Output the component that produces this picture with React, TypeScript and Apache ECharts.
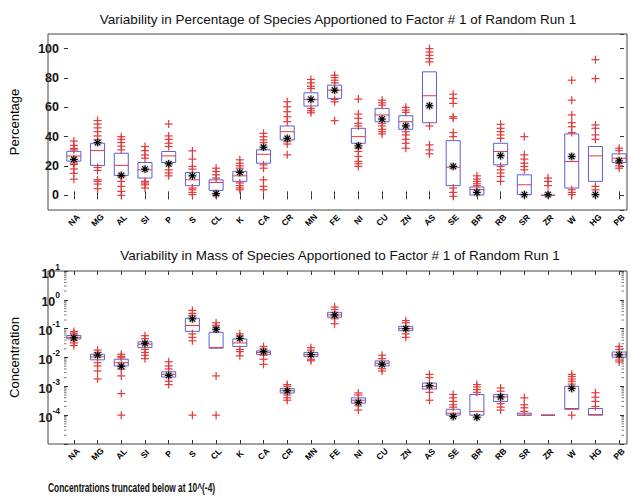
import React, { useEffect, useRef } from 'react';
import * as echarts from 'echarts';

const species = ['NA','MG','AL','SI','P','S','CL','K','CA','CR','MN','FE','NI','CU','ZN','AS','SE','BR','RB','SR','ZR','W','HG','PB'];

// ---- Top panel: percentage of species apportioned ----
const pctQ1 = [23.3, 20.4, 13.6, 11.8, 22.4, 6.6, 3.4, 9.5, 21.9, 37.8, 60.9, 66.1, 35.5, 50.2, 45.0, 49.5, 6.6, 0.2, 20.8, 0.5, 0, 5.0, 9.5, 22.4];
const pctMedian = [26.8, 30.5, 20.4, 17.4, 26.9, 10.6, 8.8, 13.3, 28.0, 43.4, 65.4, 71.7, 40.0, 54.8, 50.2, 67.9, 19.2, 4.0, 29.9, 7.2, 0, 23.1, 26.9, 25.3];
const pctQ3 = [30.0, 35.5, 28.7, 22.4, 29.9, 15.6, 10.6, 16.3, 31.0, 47.3, 69.9, 75.1, 45.7, 59.3, 54.3, 84.2, 37.3, 5.7, 35.5, 14.0, 0, 41.9, 33.3, 28.3];
const pctMark = [24.5, 36.0, 13.6, 17.9, 21.5, 13.3, 1.1, 15.6, 32.8, 38.9, 65.4, 71.7, 33.7, 52.0, 47.3, 61.1, 19.7, 2.0, 27.1, 0.5, 0.5, 26.5, 0.5, 23.5];
const pctOutliers = [
  [37, 34, 32, 31, 22, 21, 18, 15, 11],
  [51, 48.6, 46, 43.4, 40.5, 38, 19, 17, 10.6, 9.5, 7.7, 4.5],
  [40, 38.2, 36, 33.5, 31, 12.9, 9.5, 6.1, 2.7, 0],
  [33.3, 30.5, 27.5, 25.3, 9.5, 8.4, 7.2, 5],
  [48.6, 40.5, 38.2, 35.5, 33.3, 17.4, 15.2, 13.3],
  [30.3, 24.7, 19.7, 17.9, 5, 3.8, 2, 0.5],
  [18.5, 16.3, 14, 11.8, 0],
  [24.2, 21.9, 20.1, 18.5, 8.4, 6.6, 5, 3.8],
  [42.3, 40, 37.8, 36, 20.8, 18.5, 10.6, 6.1, 3.8],
  [63.8, 60.4, 57, 53.6, 50.2, 36.7, 35, 27.6],
  [79, 76.7, 74.4, 72.9, 59.3, 57.7, 56.3],
  [81.9, 80.3, 78.5, 76.7, 65.4, 63.8, 50.9],
  [65.6, 55.4, 52.5, 49.1, 47.3, 32.1, 29.9, 26.5, 23.1, 21.5, 19.7],
  [64.9, 63.1, 61.5, 49.1, 47.3, 45, 43.4, 41.9],
  [60, 58.1, 56.6, 43.4, 41.2, 38.2, 35.5, 32.1],
  [100, 97.7, 95.5, 93.2, 91, 47.3, 34.4, 31, 28.3],
  [69, 66.1, 62.7, 53.6, 52.5, 42.8, 40, 5, 2, -0.7],
  [13.3, 11.1, 9.5, 7.9, 6.6],
  [48.4, 45.7, 43.4, 41.2, 38.9, 19.7, 17.4, 15.2, 12.9, 9.5],
  [40, 27.6, 24.7, 21.9, 19.7, 17.4],
  [11.8, 9.5, 6.6],
  [78.5, 64.9, 54.8, 49.5, 46.8, 42.8, 3.8, 2, 0.5],
  [92.5, 79.6, 48, 45.7, 41.2, 38.2, 6.1, 3.8],
  [32.1, 30.5, 21.9, 20.1, 18.5],
];
const pctTicks = [0, 20, 40, 60, 80, 100];

// ---- Bottom panel: mass (concentration) of species apportioned ----
const massQ1 = [4.4e-2, 8.3e-3, 5.1e-3, 2.2e-2, 2.1e-3, 8.1e-2, 2.1e-2, 2.4e-2, 1.29e-2, 5.9e-4, 1.08e-2, 2.5e-1, 2.6e-4, 5.1e-3, 8.5e-2, 8.1e-4, 1e-4, 1e-4, 3e-4, 1e-4, 1e-4, 1.6e-4, 1e-4, 1.02e-2];
const massMedian = [5.0e-2, 1.05e-2, 6.6e-3, 2.9e-2, 2.6e-3, 1.29e-1, 2.2e-2, 3.2e-2, 1.5e-2, 7e-4, 1.26e-2, 3e-1, 3.3e-4, 6.3e-3, 1e-1, 1e-3, 1.17e-4, 1.35e-4, 4.3e-4, 1e-4, 1e-4, 1.7e-4, 1.05e-4, 1.24e-2];
const massQ3 = [5.8e-2, 1.29e-2, 8.7e-3, 3.5e-2, 3.2e-3, 2.3e-1, 7.5e-2, 4.4e-2, 1.7e-2, 8.3e-4, 1.5e-2, 3.7e-1, 4e-4, 7.6e-3, 1.2e-1, 1.3e-3, 1.6e-4, 5.2e-4, 5.2e-4, 1.17e-4, 1e-4, 1e-3, 1.7e-4, 1.55e-2];
const massMark = [4.8e-2, 1.2e-2, 5.0e-3, 3.1e-2, 2.4e-3, 2.2e-1, 9.5e-2, 4.6e-2, 1.6e-2, 7e-4, 1.26e-2, 3e-1, 2.8e-4, 5.8e-3, 1e-1, 1.06e-3, 9e-5, 8.5e-5, 4.3e-4, null, null, 8.5e-4, null, 1.24e-2];
const massOutliers = [
  [8e-2, 7e-2, 6.5e-2, 3.8e-2, 3.2e-2, 2.6e-2],
  [1.8e-2, 1.5e-2, 6.6e-3, 5.1e-3, 3.4e-3, 1.8e-3],
  [1.3e-2, 1.1e-2, 9.8e-3, 3.9e-3, 2.3e-3, 5.6e-4, 1e-4],
  [5.7e-2, 4.5e-2, 1.9e-2, 1.5e-2, 1.2e-2, 9.1e-3],
  [7.1e-3, 5.1e-3, 4e-3, 1.5e-3, 1.15e-3],
  [4.3e-1, 3.4e-1, 2.9e-1, 6.6e-2, 5e-2, 3.8e-2, 1e-4],
  [1.6e-1, 1.3e-1, 1.1e-1, 2.3e-3, 1e-4],
  [6.6e-2, 5.6e-2, 1.9e-2, 1.6e-2, 1.14e-2],
  [2.4e-2, 2e-2, 1.2e-2, 8.7e-3, 5.8e-3],
  [1.15e-3, 1e-3, 5e-4, 4e-4, 3.3e-4],
  [2.2e-2, 1.8e-2, 8.7e-3, 7.7e-3],
  [5.6e-1, 4.6e-1, 2.2e-1, 1.48e-1],
  [5.9e-4, 5e-4, 2.1e-4, 1.5e-4],
  [1.2e-2, 9.1e-3, 4.1e-3, 3.4e-3],
  [1.9e-1, 1.6e-1, 6.6e-2, 5e-2],
  [2.6e-3, 2e-3, 6.2e-4, 3.3e-4],
  [5.2e-4, 4e-4, 3e-4, 2.3e-4, 1.9e-4],
  [1.15e-3, 9.5e-4, 7.7e-4, 6.2e-4],
  [8.8e-4, 6.8e-4, 2.5e-4, 1.9e-4, 1.5e-4],
  [4e-4, 2.3e-4, 1.8e-4, 1.35e-4],
  [],
  [2.6e-3, 2.2e-3, 1.8e-3, 1.5e-3, 1.2e-3, 1e-4],
  [6e-4, 4.2e-4, 3e-4, 2e-4],
  [2.4e-2, 1.9e-2, 8.2e-3, 7e-3],
];
const logDecades = [-5, -4, -3, -2, -1, 0];
const minorMultipliers = [2, 3, 4, 5, 6, 7, 8, 9];

const topTitle = 'Variability in Percentage of Species Apportioned to Factor # 1 of Random Run 1';
const bottomTitle = 'Variability in Mass of Species Apportioned to Factor # 1 of Random Run 1';
const noteText = 'Concentrations truncated below at 10^(-4)';

const FONT = 'Liberation Sans, Arial, sans-serif';
const BLUE = '#5e5ed6';
const RED = '#e23a3a';

const boxRender = (params: any, api: any) => {
  const i = api.value(0);
  const p1 = api.coord([i, api.value(1)]);
  const pm = api.coord([i, api.value(2)]);
  const p3 = api.coord([i, api.value(3)]);
  const h = 7;
  return {
    type: 'group',
    children: [
      { type: 'rect', shape: { x: p1[0] - h, y: p3[1], width: 2 * h, height: Math.max(p1[1] - p3[1], 0) }, style: { fill: 'none', stroke: BLUE, lineWidth: 1 } },
      { type: 'line', shape: { x1: pm[0] - h, y1: pm[1], x2: pm[0] + h, y2: pm[1] }, style: { stroke: RED, lineWidth: 1 } },
    ],
  };
};

const crossRender = (params: any, api: any) => {
  const p = api.coord([api.value(0), api.value(1)]);
  const r = 4;
  return {
    type: 'group',
    children: [
      { type: 'line', shape: { x1: p[0] - r, y1: p[1], x2: p[0] + r, y2: p[1] }, style: { stroke: RED, lineWidth: 1.2 } },
      { type: 'line', shape: { x1: p[0], y1: p[1] - r, x2: p[0], y2: p[1] + r }, style: { stroke: RED, lineWidth: 1.2 } },
    ],
  };
};

const starRender = (params: any, api: any) => {
  const p = api.coord([api.value(0), api.value(1)]);
  const r = 3.8;
  const d = r * 0.72;
  const st = { stroke: '#000', lineWidth: 1.1 };
  return {
    type: 'group',
    children: [
      { type: 'circle', shape: { cx: p[0], cy: p[1], r: 4.5 }, style: { fill: 'rgba(150,150,150,0.35)' } },
      { type: 'line', shape: { x1: p[0] - r, y1: p[1], x2: p[0] + r, y2: p[1] }, style: st },
      { type: 'line', shape: { x1: p[0], y1: p[1] - r, x2: p[0], y2: p[1] + r }, style: st },
      { type: 'line', shape: { x1: p[0] - d, y1: p[1] - d, x2: p[0] + d, y2: p[1] + d }, style: st },
      { type: 'line', shape: { x1: p[0] - d, y1: p[1] + d, x2: p[0] + d, y2: p[1] - d }, style: st },
      { type: 'circle', shape: { cx: p[0], cy: p[1], r: 1.7 }, style: { fill: '#000' } },
    ],
  };
};

// minor log ticks drawn on the frame of the lower panel (inside, Matlab-like)
const minorTickRender = (params: any, api: any) => {
  const p = api.coord([0, api.value(1)]);
  const cs = params.coordSys;
  const xl = cs.x + 2;
  const xr = cs.x + cs.width - 7;
  const st = { stroke: '#555', lineWidth: 0.8 };
  return {
    type: 'group',
    children: [
      { type: 'line', shape: { x1: xl, y1: p[1], x2: xl + 2.5, y2: p[1] }, style: st },
      { type: 'line', shape: { x1: xr - 2.5, y1: p[1], x2: xr, y2: p[1] }, style: st },
    ],
  };
};

const flatten = (outs: number[][]) => {
  const res: number[][] = [];
  outs.forEach((arr, i) => arr.forEach((v) => res.push([i, v])));
  return res;
};

export default function App() {
  const ref = useRef<HTMLDivElement>(null);
  useEffect(() => {
    if (!ref.current) return;
    const chart = echarts.init(ref.current, undefined, { renderer: 'svg' });

    const xLabel = { show: true, rotate: 45, align: 'center', verticalAlign: 'middle', margin: 10, fontSize: 8.5, fontWeight: 'bold', color: '#000', fontFamily: FONT, interval: 0 };
    const mkX = (gridIndex: number, pos: 'top' | 'bottom') => ({
      type: 'category', gridIndex, position: pos, data: species, boundaryGap: true,
      axisLine: { show: false },
      axisTick: { show: true, inside: true, alignWithLabel: true, length: 4, lineStyle: { color: '#333' }, interval: 0 },
      axisLabel: pos === 'bottom' ? xLabel : { show: false },
    });

    const minorValues: number[][] = [];
    logDecades.forEach((e) => minorMultipliers.forEach((m) => minorValues.push([0, m * Math.pow(10, e)])));

    const option: any = {
      animation: false,
      backgroundColor: '#fff',
      grid: [
        { left: 46, top: 34, width: 588, height: 176 },
        { left: 46, top: 271, width: 588, height: 173 },
      ],
      xAxis: [mkX(0, 'bottom'), mkX(0, 'top'), mkX(1, 'bottom'), mkX(1, 'top')],
      yAxis: [
        {
          type: 'value', gridIndex: 0, position: 'left', offset: -2, min: -10, max: 110,
          name: 'Percentage', nameLocation: 'middle', nameGap: 43,
          nameTextStyle: { fontSize: 13, color: '#000', fontFamily: FONT },
          splitLine: { show: false }, axisLine: { show: false },
          axisTick: { show: true, inside: true, length: 4, lineStyle: { color: '#333' } },
          axisLabel: {
            fontSize: 12.5, fontWeight: 'bold', color: '#111', fontFamily: FONT, margin: 5,
            showMinLabel: false, showMaxLabel: false,
            formatter: (v: number) => (pctTicks.includes(v) ? String(v) : ''),
          },
        },
        {
          type: 'value', gridIndex: 0, position: 'right', offset: -7, min: -10, max: 110,
          splitLine: { show: false }, axisLine: { show: false },
          axisTick: { show: true, inside: true, length: 4, lineStyle: { color: '#333' } },
          axisLabel: { show: false },
        },
        {
          type: 'log', logBase: 10, gridIndex: 1, position: 'left', offset: -2, min: 1e-5, max: 10,
          name: 'Concentration', nameLocation: 'middle', nameGap: 43,
          nameTextStyle: { fontSize: 13, color: '#000', fontFamily: FONT },
          splitLine: { show: false }, axisLine: { show: false },
          axisTick: { show: true, inside: true, length: 4, lineStyle: { color: '#333' } },
          axisLabel: {
            margin: 4, fontFamily: FONT, color: '#111',
            formatter: (v: number) => {
              const e = Math.round(Math.log10(v));
              if (e < -4) return '';
              return '{b|10}{s|' + e + '}';
            },
            rich: {
              b: { fontSize: 12.5, fontWeight: 'bold', color: '#111', fontFamily: FONT, verticalAlign: 'bottom', lineHeight: 18 },
              s: { fontSize: 8.5, fontWeight: 'bold', color: '#111', fontFamily: FONT, verticalAlign: 'top', lineHeight: 18 },
            },
          },
        },
        {
          type: 'log', logBase: 10, gridIndex: 1, position: 'right', offset: -7, min: 1e-5, max: 10,
          splitLine: { show: false }, axisLine: { show: false },
          axisTick: { show: true, inside: true, length: 4, lineStyle: { color: '#333' } },
          axisLabel: { show: false },
        },
      ],
      graphic: [
        { type: 'rect', shape: { x: 48, y: 34, width: 579, height: 176 }, style: { fill: 'none', stroke: '#444', lineWidth: 1 }, silent: true, z: 100 },
        { type: 'rect', shape: { x: 48, y: 271, width: 579, height: 173 }, style: { fill: 'none', stroke: '#444', lineWidth: 1 }, silent: true, z: 100 },
        { type: 'text', x: 338, y: 19, style: { text: topTitle, fontSize: 13.5, fontFamily: FONT, fill: '#111', textAlign: 'center', textVerticalAlign: 'middle' } },
        { type: 'text', x: 340, y: 255, style: { text: bottomTitle, fontSize: 13.5, fontFamily: FONT, fill: '#111', textAlign: 'center', textVerticalAlign: 'middle' } },
        { type: 'text', x: 48, y: 487, scaleX: 0.67, style: { text: noteText, fontSize: 12.5, fontWeight: 'bold', fontFamily: FONT, fill: '#111', textAlign: 'left', textVerticalAlign: 'middle' } },
      ],
      series: [
        {
          type: 'custom', xAxisIndex: 2, yAxisIndex: 2, renderItem: minorTickRender,
          encode: { x: 0, y: 1 }, data: minorValues, silent: true,
        },
        {
          type: 'custom', xAxisIndex: 0, yAxisIndex: 0, renderItem: boxRender,
          encode: { x: 0, y: [1, 2, 3] },
          data: species.map((_, i) => [i, pctQ1[i], pctMedian[i], pctQ3[i]]),
        },
        {
          type: 'custom', xAxisIndex: 0, yAxisIndex: 0, renderItem: crossRender,
          encode: { x: 0, y: 1 }, data: flatten(pctOutliers),
        },
        {
          type: 'custom', xAxisIndex: 0, yAxisIndex: 0, renderItem: starRender,
          encode: { x: 0, y: 1 }, data: pctMark.map((v, i) => [i, v]),
        },
        {
          type: 'custom', xAxisIndex: 2, yAxisIndex: 2, renderItem: boxRender,
          encode: { x: 0, y: [1, 2, 3] },
          data: species.map((_, i) => [i, massQ1[i], massMedian[i], massQ3[i]]),
        },
        {
          type: 'custom', xAxisIndex: 2, yAxisIndex: 2, renderItem: crossRender,
          encode: { x: 0, y: 1 }, data: flatten(massOutliers),
        },
        {
          type: 'custom', xAxisIndex: 2, yAxisIndex: 2, renderItem: starRender,
          encode: { x: 0, y: 1 },
          data: massMark.map((v, i) => [i, v]).filter((d) => d[1] !== null),
        },
      ],
    };
    chart.setOption(option);
    return () => chart.dispose();
  }, []);
  return <div ref={ref} style={{ position: 'fixed', left: 0, top: 0, width: 631, height: 497 }} />;
}
